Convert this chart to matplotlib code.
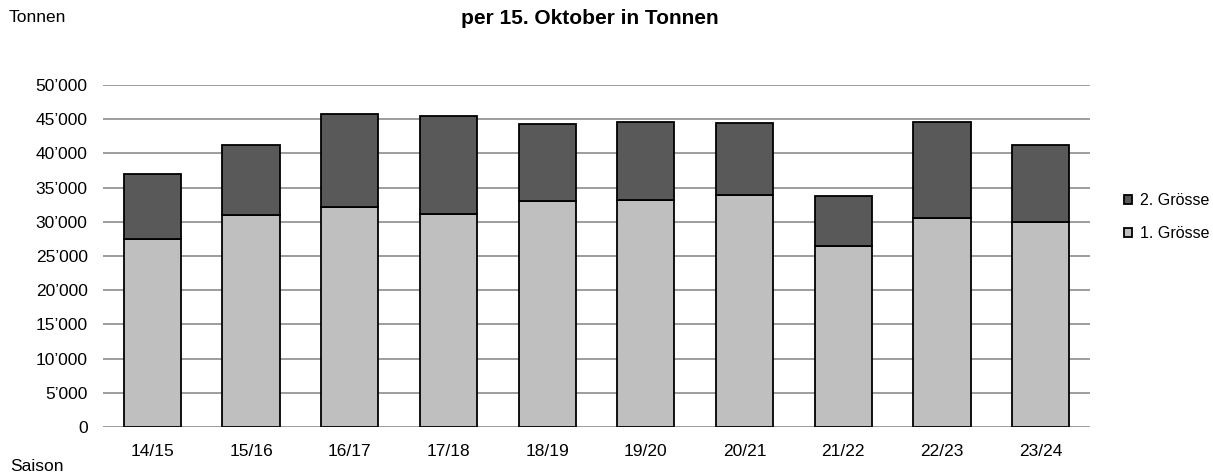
import numpy as np
import matplotlib.pyplot as plt
from matplotlib.ticker import FuncFormatter

# Daten (Tonnen, per 15. Oktober)
saisons = ["14/15", "15/16", "16/17", "17/18", "18/19", "19/20", "20/21", "21/22", "22/23", "23/24"]
groesse_1 = [27500, 31000, 32100, 31100, 33000, 33200, 33900, 26500, 30600, 30000]
groesse_total = [37000, 41250, 45800, 45500, 44300, 44600, 44400, 33700, 44600, 41300]
groesse_2 = [t - g for t, g in zip(groesse_total, groesse_1)]
y_ticks = list(range(0, 50001, 5000))

plt.rcParams['font.family'] = ['Liberation Sans', 'DejaVu Sans']

fig = plt.figure(figsize=(12.13, 4.73), dpi=100, facecolor="white")
ax = fig.add_axes([103 / 1213, 1 - 427 / 473, (1090 - 103) / 1213, (427 - 85) / 473])

x = np.arange(len(saisons))
b1 = ax.bar(x, groesse_1, width=0.58, color="#bfbfbf", edgecolor="black", linewidth=1.3,
            label="1. Grösse", zorder=3)
b2 = ax.bar(x, groesse_2, width=0.58, bottom=groesse_1, color="#595959", edgecolor="black",
            linewidth=1.3, label="2. Grösse", zorder=3)

ax.set_xlim(-0.5, len(saisons) - 0.5)
ax.set_ylim(0, 50000)
ax.set_yticks(y_ticks)
ax.yaxis.set_major_formatter(FuncFormatter(lambda v, p: f"{int(v):,}".replace(",", "\u2019")))
ax.set_xticks(x)
ax.set_xticklabels(saisons)
ax.tick_params(axis="both", length=0, labelsize=12.5, colors="black")
ax.tick_params(axis="x", pad=12)
ax.tick_params(axis="y", pad=11)
ax.grid(axis="y", color="#8c8c8c", linewidth=1.2, zorder=0)
for s in ax.spines.values():
    s.set_visible(False)

handles = [b2, b1]
leg = fig.legend(handles, ["2. Grösse", "1. Grösse"], loc="center left",
                 bbox_to_anchor=(1124 / 1213, 1 - 217 / 473), frameon=False,
                 fontsize=11.5, handlelength=0.5, handleheight=0.5, labelspacing=1.1,
                 handletextpad=0.5, borderpad=0, borderaxespad=0)

fig.text(590 / 1213, 1 - 19 / 473, "per 15. Oktober in Tonnen", ha="center", va="center",
         fontsize=15, fontweight="bold")
fig.text(9 / 1213, 1 - 18 / 473, "Tonnen", ha="left", va="center", fontsize=12.5)
fig.text(10 / 1213, 1 - 466 / 473, "Saison", ha="left", va="center", fontsize=12.5)

fig.savefig("out.png", dpi=100, facecolor="white")
